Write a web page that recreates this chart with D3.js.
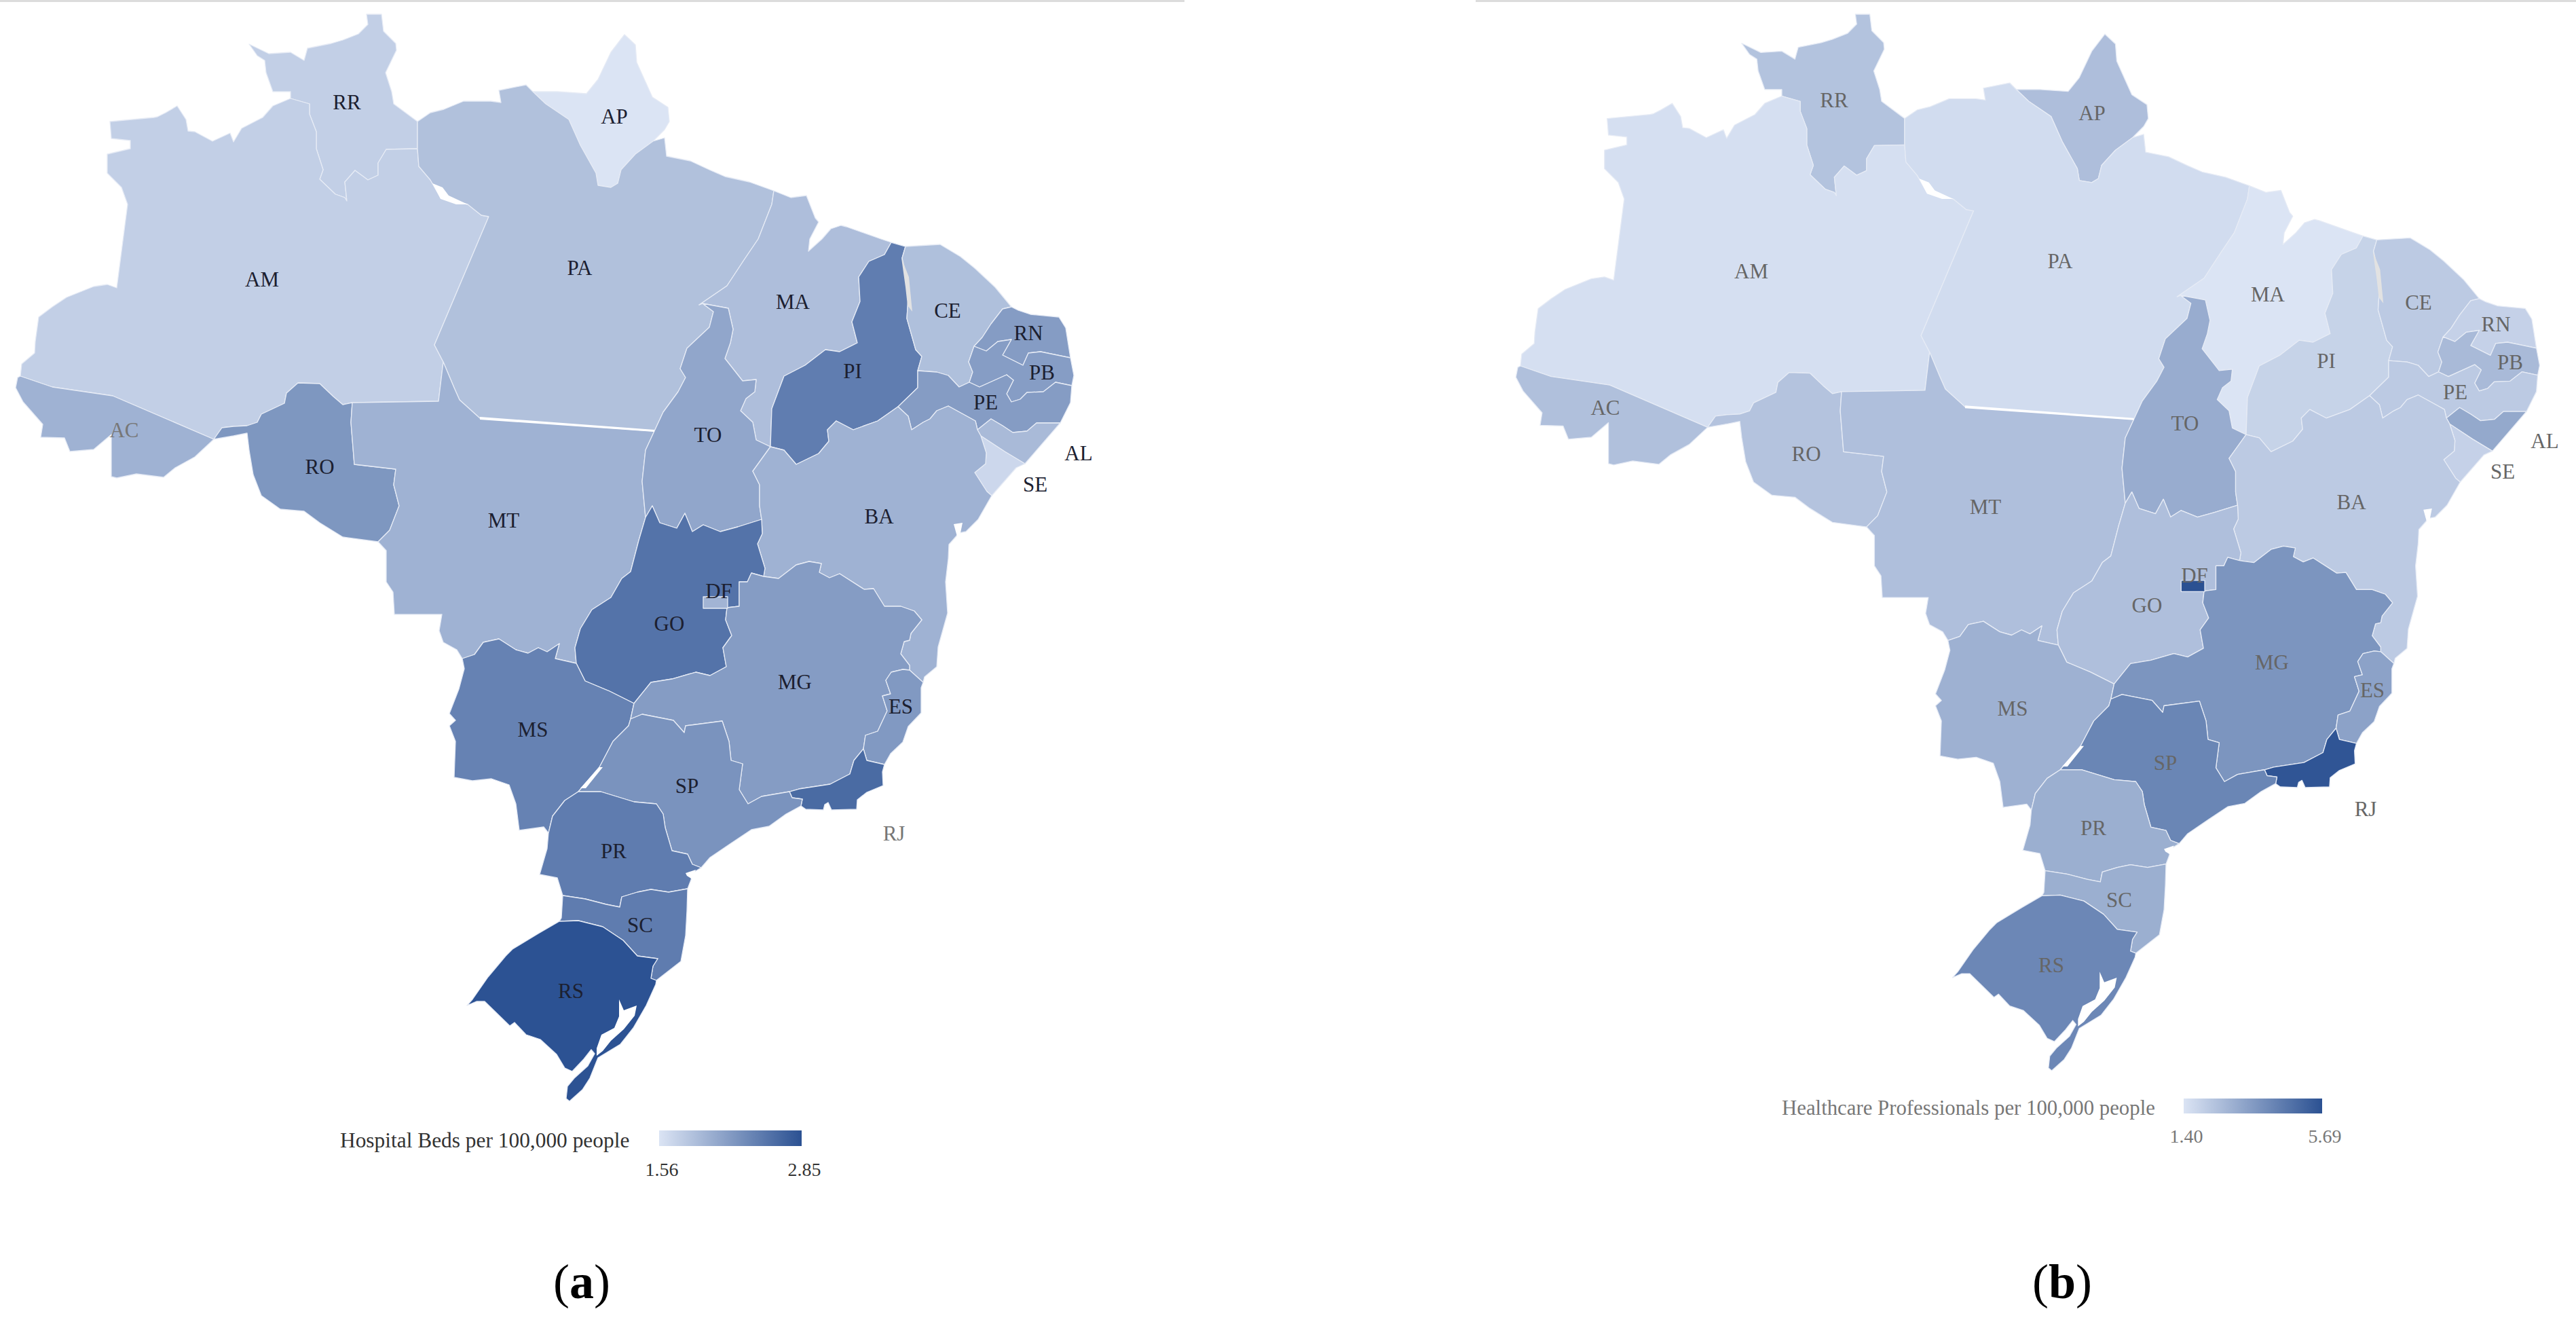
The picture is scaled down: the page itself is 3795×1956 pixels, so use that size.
<!DOCTYPE html>
<html>
<head>
<meta charset="utf-8">
<script src="https://cdn.jsdelivr.net/npm/d3@7"></script>
<style>
    body { margin: 0; background: #fff; }
    text { font-family: "Liberation Serif", serif; }
</style>
</head>
<body>
<script>
// state values
var stateCodes = ['RR','AP','AM','PA','AC','RO','MT','MA','TO','PI','CE','RN','PB','PE','AL','SE','BA','GO','MS','MG','ES','RJ','SP','PR','SC','RS','DF'];
var hospitalBeds = [1.74,1.56,1.74,1.87,2.00,2.24,2.00,1.89,2.10,2.46,1.88,2.19,2.18,2.19,1.93,1.67,2.00,2.55,2.42,2.19,2.22,2.62,2.27,2.47,2.47,2.84,1.98];
var professionals = [2.37,2.50,1.55,1.64,2.45,2.35,2.47,1.40,3.03,1.91,2.15,1.94,2.62,2.15,3.13,1.94,2.15,2.47,2.89,3.72,3.33,5.56,4.15,2.96,2.96,4.10,5.69];

var bedsDomain = [1.56, 2.85];
var professionalsDomain = [1.40, 5.69];
var colourRange = ['#dbe4f4', '#2b5192'];

var bedsTitle = 'Hospital Beds per 100,000 people';
var professionalsTitle = 'Healthcare Professionals per 100,000 people';
var bedsTicks = ['1.56', '2.85'];
var professionalsTicks = ['1.40', '5.69'];

// label anchors, one per state, same order as stateCodes
var bedsLabelXY = [[511,150],[905,171],[386,411],[854,394],[183,633],[471,687],[742,766],[1168,444],[1043,640],[1256,546],[1396,457],[1515,490],[1535,548],[1452,592],[1589,667],[1525,713],[1295,760],[986,918],[785,1074],[1171,1004],[1327,1040],[1317,1227],[1012,1157],[904,1253],[943,1362],[841,1459],[1059,870]];
var professionalsLabelXY = [[2702,147],[3082,166],[2580,399],[3035,384],[2365,600],[2661,668],[2925,746],[3341,433],[3219,623],[3427,531],[3563,445],[3677,477],[3698,533],[3617,577],[3749,649],[3687,694],[3464,739],[3163,891],[2965,1043],[3347,975],[3495,1016],[3485,1191],[3190,1123],[3084,1219],[3122,1325],[3022,1421],[3233,847]];

// outlines, in its pixel units. shared borders are kept once
var borders = {
    amNorth: [[30,554],[32,536],[51,520],[52,503],[57,467],[77,452],[98,438],[138,422],[158,419],[172,424],[188,301],[179,276],[158,255],[158,227],[192,219],[192,207],[164,204],[162,179],[227,173],[232,172],[244,166],[261,156],[274,176],[277,193],[287,194],[313,208],[339,196],[344,209],[356,189],[387,173],[402,156],[428,145]],
    rrOuter: [[428,145],[428,135],[402,135],[392,107],[390,89],[379,82],[367,65],[396,79],[428,77],[448,89],[453,71],[488,64],[505,59],[528,50],[542,36],[540,21],[562,21],[565,46],[583,64],[584,74],[568,107],[577,135],[580,153],[611,176],[615,179]],
    rrPa: [[615,179],[615,219]],
    rrAm: [[428,145],[456,153],[456,168],[466,194],[466,219],[476,250],[471,264],[494,286],[508,291],[511,296],[508,268],[523,251],[542,265],[557,258],[557,240],[569,220],[615,219]],
    amPa: [[615,219],[617,245],[634,265],[649,291],[689,301],[709,317],[720,319],[640,508],[653,533]],
    amMt: [[653,533],[646,591],[519,593]],
    amRo: [[519,593],[505,596],[491,584],[471,565],[439,564],[422,579],[419,594],[385,610],[379,622],[364,627],[344,628],[327,630],[315,647]],
    acAm: [[30,554],[77,570],[166,583],[315,647]],
    acOuter: [[315,647],[287,673],[258,689],[241,703],[201,698],[172,704],[164,702],[164,640],[138,662],[103,665],[95,645],[60,644],[63,625],[34,592],[23,571],[26,556],[30,554]],
    roSouth: [[315,647],[344,642],[364,638],[367,663],[373,699],[385,730],[413,750],[448,753],[471,770],[505,791],[557,798]],
    roMt: [[519,593],[517,622],[522,684],[583,691],[580,714],[588,745],[574,781],[557,798]],
    mtOuter: [[557,798],[569,811],[569,857],[579,872],[581,905],[651,905],[647,929],[653,946],[673,957],[681,970]],
    mtMs: [[681,970],[699,964],[712,946],[735,941],[760,957],[778,962],[793,954],[806,960],[824,948],[818,970],[849,977]],
    mtGo: [[849,977],[847,954],[855,926],[872,898],[900,880],[916,852],[929,842],[941,796],[951,762]],
    mtTo: [[964,635],[951,663],[946,709],[951,762]],
    paMt: [[964,635],[707,616],[697,607],[677,589],[669,571],[653,533]],
    paCoastN: [[615,179],[634,166],[654,161],[683,149],[723,149],[738,151],[735,133],[775,125],[785,135]],
    apPa: [[785,135],[804,153],[838,176],[855,214],[878,255],[881,273],[900,276],[910,270],[915,250],[936,227],[962,208]],
    apCoast: [[785,135],[821,135],[864,138],[881,117],[900,77],[920,51],[936,66],[938,92],[961,143],[984,158],[986,179],[979,191],[962,208]],
    paCoastE: [[962,208],[979,203],[982,230],[1017,237],[1045,250],[1068,260],[1104,268],[1140,281]],
    paMa: [[1140,281],[1137,301],[1117,352],[1096,383],[1071,421],[1030,449],[1035,447]],
    paTo: [[1035,447],[1051,459],[1045,482],[1012,513],[1002,543],[1010,556],[999,577],[977,607],[964,635]],
    toMa: [[1035,447],[1073,454],[1080,485],[1076,505],[1068,528],[1094,561],[1114,559],[1112,577],[1099,587],[1091,605],[1109,622],[1114,648],[1135,658]],
    toBa: [[1135,658],[1109,694],[1119,714],[1119,745],[1122,765]],
    toGo: [[951,762],[961,745],[972,770],[997,778],[1009,756],[1020,783],[1036,773],[1061,783],[1087,776],[1122,765]],
    maCoast: [[1313,357],[1298,352],[1247,334],[1239,332],[1224,337],[1211,352],[1191,370],[1193,352],[1206,327],[1201,321],[1188,288],[1165,291],[1140,281]],
    maPi: [[1135,658],[1137,602],[1155,554],[1186,538],[1216,515],[1237,518],[1263,505],[1255,474],[1267,444],[1265,408],[1280,385],[1303,375],[1313,357]],
    piN: [[1334,363],[1313,357]],
    piCe: [[1334,363],[1329,380],[1339,423],[1336,469],[1349,515],[1358,525],[1352,546]],
    piPe: [[1352,546],[1352,571],[1323,599]],
    piBa: [[1323,599],[1293,620],[1257,633],[1232,620],[1219,633],[1221,650],[1206,668],[1173,684],[1155,663],[1135,658]],
    ceCoast: [[1334,363],[1385,360],[1415,378],[1436,395],[1466,423],[1490,452]],
    ceRn: [[1490,452],[1477,455],[1460,477],[1447,497],[1435,510]],
    cePb: [[1435,510],[1427,533],[1433,548],[1428,563]],
    cePe: [[1428,563],[1413,570],[1397,553],[1380,548],[1352,546]],
    rnCoast: [[1490,452],[1500,457],[1518,463],[1560,467],[1570,483],[1577,527]],
    rnPb: [[1435,510],[1453,517],[1470,503],[1490,500],[1477,523],[1507,538],[1515,520],[1533,518],[1577,527]],
    pbCoast: [[1577,527],[1582,553],[1579,568]],
    pbPe: [[1428,563],[1443,570],[1483,552],[1493,560],[1483,580],[1490,592],[1503,588],[1513,578],[1537,577],[1555,563],[1579,568]],
    peCoast: [[1579,568],[1577,593],[1562,623]],
    peAl: [[1562,623],[1527,623],[1513,635],[1492,637],[1477,627],[1460,617],[1440,633]],
    peBa: [[1440,633],[1437,620],[1428,615],[1397,598],[1380,605],[1370,617],[1360,622],[1343,633],[1338,613],[1323,599]],
    alCoast: [[1562,623],[1510,683]],
    alSe: [[1445,642],[1480,665],[1510,683]],
    alBa: [[1445,642],[1440,633]],
    seCoast: [[1510,683],[1497,689],[1461,730]],
    seBa: [[1445,642],[1453,667],[1452,683],[1436,696],[1454,724],[1461,730]],
    baCoast: [[1461,730],[1441,765],[1423,783],[1413,785],[1398,802],[1397,823],[1393,857],[1396,903],[1382,953],[1380,982],[1362,997],[1360,1005]],
    baEs: [[1340,987],[1360,1005]],
    baMg: [[1125,849],[1147,852],[1173,832],[1192,827],[1210,830],[1207,843],[1222,851],[1237,845],[1273,868],[1287,867],[1303,893],[1327,893],[1347,900],[1358,913],[1342,933],[1340,943],[1332,945],[1327,963],[1340,980],[1340,987]],
    goBa: [[1122,765],[1123,786],[1116,801],[1127,837],[1125,849]],
    goMg: [[1125,849],[1107,844],[1101,857],[1089,857],[1089,893],[1071,895],[1069,913],[1078,936],[1065,954],[1070,982],[1046,995],[1025,990],[990,1000],[959,1005],[934,1036]],
    goMs: [[934,1036],[898,1018],[862,1003],[849,977]],
    msOuter: [[681,970],[684,985],[676,1015],[662,1051],[671,1061],[662,1069],[671,1092],[669,1145],[696,1150],[724,1147],[750,1156],[760,1184],[765,1223],[801,1218],[808,1227]],
    msMg: [[934,1036],[929,1059]],
    msSp: [[929,1059],[926,1069],[903,1092],[883,1130],[852,1166]],
    msPr: [[852,1166],[832,1179],[814,1202],[808,1227]],
    spMg: [[929,1059],[946,1052],[992,1061],[1008,1079],[1010,1069],[1064,1062],[1074,1092],[1077,1120],[1094,1125],[1089,1163],[1102,1184],[1122,1173],[1163,1166]],
    mgEs: [[1340,987],[1330,986],[1313,990],[1305,1002],[1312,1022],[1300,1025],[1307,1047],[1293,1077],[1275,1083],[1272,1103]],
    mgRj: [[1272,1103],[1258,1120],[1252,1140],[1223,1155],[1177,1162],[1163,1166]],
    esCoast: [[1360,1005],[1357,1013],[1357,1050],[1338,1070],[1330,1093],[1312,1110],[1303,1126]],
    esRj: [[1272,1103],[1277,1120],[1303,1126]],
    rjCoast: [[1303,1126],[1300,1137],[1301,1157],[1277,1167],[1263,1178],[1262,1192],[1225,1193],[1220,1182],[1215,1185],[1213,1193],[1187,1192],[1180,1187]],
    spRj: [[1163,1166],[1167,1175],[1182,1177],[1180,1187]],
    spCoast: [[1180,1187],[1158,1199],[1133,1217],[1107,1222],[1077,1242],[1046,1263],[1033,1278]],
    spPr: [[852,1166],[885,1166],[934,1181],[967,1184],[977,1199],[980,1219],[990,1253],[1013,1258],[1020,1273],[1033,1278]],
    prCoast: [[1033,1278],[1020,1286],[1018,1296],[1013,1309]],
    prSc: [[1013,1309],[985,1314],[959,1310],[939,1314],[916,1321],[913,1336],[893,1332],[862,1324],[829,1319]],
    prWest: [[808,1227],[806,1250],[795,1288],[821,1293],[829,1319]],
    scWest: [[829,1319],[827,1352],[824,1357]],
    scRs: [[824,1357],[852,1356],[888,1365],[918,1385],[939,1408],[969,1412],[962,1423],[959,1441],[967,1444]],
    scCoast: [[967,1444],[1003,1416],[1010,1378],[1012,1342],[1013,1309]],
    rsOuter: [[824,1357],[793,1375],[755,1398],[745,1408],[719,1439],[696,1472],[688,1481],[702,1475],[714,1475],[751,1511],[758,1506],[775,1524],[796,1531],[820,1553],[832,1573],[843,1578],[860,1560],[871,1546],[876,1552],[866,1570],[846,1588],[836,1600],[834,1618],[839,1622],[858,1605],[869,1588],[881,1558],[914,1538],[933,1514],[952,1481],[966,1450],[967,1444]],
    dfBox: [[1036,879],[1072,879],[1072,896],[1036,896],[1036,879]]
};

// '-' means the border is walked backwards
var stateRings = {
    RR: ['rrOuter','rrPa','-rrAm'],
    AP: ['apCoast','-apPa'],
    AM: ['amNorth','rrAm','amPa','amMt','amRo','-acAm'],
    PA: ['paCoastN','apPa','paCoastE','paMa','paTo','paMt','-amPa','-rrPa'],
    AC: ['acAm','acOuter'],
    RO: ['-amRo','roMt','-roSouth'],
    MT: ['-amMt','-paMt','mtTo','-mtGo','-mtMs','-mtOuter','-roMt'],
    MA: ['maCoast','paMa','toMa','maPi'],
    TO: ['toMa','toBa','-toGo','-mtTo','-paTo'],
    PI: ['-maPi','-piBa','-piPe','-piCe','piN'],
    CE: ['ceCoast','ceRn','cePb','cePe','-piCe'],
    RN: ['rnCoast','-rnPb','-ceRn'],
    PB: ['rnPb','pbCoast','-pbPe','-cePb'],
    PE: ['pbPe','peCoast','peAl','peBa','-piPe','-cePe'],
    AL: ['alCoast','-alSe','alBa','-peAl'],
    SE: ['alSe','seCoast','-seBa'],
    BA: ['-peBa','-alBa','seBa','baCoast','-baEs','-baMg','-goBa','-toBa','-piBa'],
    GO: ['mtGo','toGo','goBa','goMg','goMs'],
    MS: ['mtMs','-goMs','msMg','msSp','msPr','-msOuter'],
    MG: ['baMg','mgEs','mgRj','-spMg','-msMg','-goMg'],
    ES: ['baEs','esCoast','-esRj','-mgEs'],
    RJ: ['esRj','rjCoast','-spRj','-mgRj'],
    SP: ['spMg','spRj','spCoast','-spPr','-msSp'],
    PR: ['spPr','prCoast','prSc','-prWest','-msPr'],
    SC: ['-prSc','-scCoast','-scRs','-scWest'],
    RS: ['scRs','-rsOuter'],
    DF: ['dfBox']
};

// water and gaps drawn over the states
var waterPatches = [
    [[637,270],[652,276],[661,288],[689,301],[672,301],[649,293]],
    [[707,614],[964,633],[964,636],[707,618]],
    [[855,1161],[883,1130],[888,1130],[863,1161]],
    [[1010,1286],[1025,1281],[1020,1295],[1012,1290]],
    [[1405,772],[1418,770],[1415,785],[1410,790]],
    [[912,1472],[919,1488],[938,1481],[935,1496],[919,1516],[900,1533],[888,1548],[879,1555],[879,1544],[886,1524],[905,1514],[912,1497]]
];
var dryPatch = [[1328,380],[1339,408],[1344,459],[1337,450],[1334,423]];

function ringOf(code) {
    var ring = [];
    stateRings[code].forEach(function(name) {
        var pts = name[0] === '-' ? borders[name.slice(1)].slice().reverse() : borders[name];
        ring = ring.concat(pts);
    });
    ring.push(ring[0]);
    return ring;
}

var features = stateCodes.map(function(code) {
    return { type: 'Feature', code: code, geometry: { type: 'Polygon', coordinates: [ringOf(code)] } };
});

function polygon(points) {
    return { type: 'Polygon', coordinates: [points.concat([points[0]])] };
}

var svg = d3.select('body')
    .append('svg')
    .attr('width', 3795)
    .attr('height', 1956)
    .style('display', 'block');

// thin grey rule along the top of each panel
svg.append('rect').attr('x', 0).attr('y', 0).attr('width', 1745).attr('height', 3).attr('fill', '#dcdcdc');
svg.append('rect').attr('x', 2174).attr('y', 0).attr('width', 1621).attr('height', 3).attr('fill', '#dcdcdc');

var defs = svg.append('defs');

function drawPanel(cfg) {
    var colour = d3.scaleLinear().domain(cfg.domain).range(colourRange);
    var path = d3.geoPath(d3.geoTransform({
        point: function(x, y) { this.stream.point(cfg.x(x), cfg.y(y)); }
    }));
    var g = svg.append('g');

    g.selectAll('path.state')
        .data(features)
        .enter()
        .append('path')
        .attr('class', 'state')
        .attr('d', path)
        .attr('fill', function(d, i) { return colour(cfg.values[i]); })
        .attr('stroke', '#e6ebf5')
        .attr('stroke-width', 1.3)
        .attr('stroke-linejoin', 'round');

    g.selectAll('path.water')
        .data(waterPatches)
        .enter()
        .append('path')
        .attr('class', 'water')
        .attr('d', function(d) { return path(polygon(d)); })
        .attr('fill', '#fff');

    g.append('path')
        .attr('d', path(polygon(dryPatch)))
        .attr('fill', '#e2e2e2');

    g.selectAll('text.code')
        .data(stateCodes)
        .enter()
        .append('text')
        .attr('class', 'code')
        .attr('x', function(d, i) { return cfg.labels[i][0]; })
        .attr('y', function(d, i) { return cfg.labels[i][1]; })
        .attr('dy', '0.35em')
        .attr('text-anchor', 'middle')
        .attr('font-size', 31)
        .attr('fill', function(d) { return cfg.greyCodes.indexOf(d) >= 0 ? '#777' : cfg.labelColour; })
        .text(function(d) { return d; });

    // colour bar legend
    var grad = defs.append('linearGradient').attr('id', cfg.id).attr('x1', 0).attr('x2', 1);
    grad.append('stop').attr('offset', 0).attr('stop-color', colourRange[0]);
    grad.append('stop').attr('offset', 1).attr('stop-color', colourRange[1]);

    var bar = d3.scaleLinear().domain(cfg.domain).range(cfg.barX);
    g.append('rect')
        .attr('x', bar(cfg.domain[0]))
        .attr('y', cfg.barY)
        .attr('width', bar(cfg.domain[1]) - bar(cfg.domain[0]))
        .attr('height', cfg.barH)
        .attr('fill', 'url(#' + cfg.id + ')');

    g.append('text')
        .attr('x', cfg.titleX)
        .attr('y', cfg.titleY)
        .attr('dy', '0.35em')
        .attr('font-size', cfg.titleSize)
        .attr('fill', cfg.legendColour)
        .text(cfg.title);

    g.selectAll('text.tick')
        .data(cfg.ticks)
        .enter()
        .append('text')
        .attr('class', 'tick')
        .attr('x', function(d, i) { return bar(cfg.domain[i]) + 4; })
        .attr('y', cfg.tickY)
        .attr('dy', '0.35em')
        .attr('text-anchor', 'middle')
        .attr('font-size', 28)
        .attr('fill', cfg.legendColour)
        .text(function(d) { return d; });

    var cap = g.append('text')
        .attr('x', cfg.capX)
        .attr('y', 1893)
        .attr('dy', '0.27em')
        .attr('text-anchor', 'middle')
        .attr('font-size', 72)
        .attr('fill', '#000');
    cap.append('tspan').text('(');
    cap.append('tspan').attr('font-weight', 'bold').text(cfg.capLetter);
    cap.append('tspan').text(')');
}

drawPanel({
    id: 'bedsGrad',
    x: d3.scaleLinear().domain([0, 1]).range([0, 1]),
    y: d3.scaleLinear().domain([0, 1]).range([0, 1]),
    values: hospitalBeds,
    domain: bedsDomain,
    labels: bedsLabelXY,
    greyCodes: ['AC', 'RJ'],
    labelColour: '#1c2030',
    legendColour: '#333',
    title: bedsTitle,
    titleSize: 31.4,
    titleX: 501,
    titleY: 1679,
    ticks: bedsTicks,
    tickY: 1722,
    barX: [971, 1181],
    barY: 1665,
    barH: 23,
    capX: 857,
    capLetter: 'a'
});

drawPanel({
    id: 'professionalsGrad',
    x: d3.scaleLinear().domain([551, 920]).range([2744, 3101]),
    y: d3.scaleLinear().domain([21, 1619]).range([21, 1574]),
    values: professionals,
    domain: professionalsDomain,
    labels: professionalsLabelXY,
    greyCodes: [],
    labelColour: '#666',
    legendColour: '#777',
    title: professionalsTitle,
    titleSize: 30.8,
    titleX: 2625,
    titleY: 1631,
    ticks: professionalsTicks,
    tickY: 1673,
    barX: [3217, 3421],
    barY: 1618,
    barH: 22,
    capX: 3038,
    capLetter: 'b'
});
</script>
</body>
</html>
